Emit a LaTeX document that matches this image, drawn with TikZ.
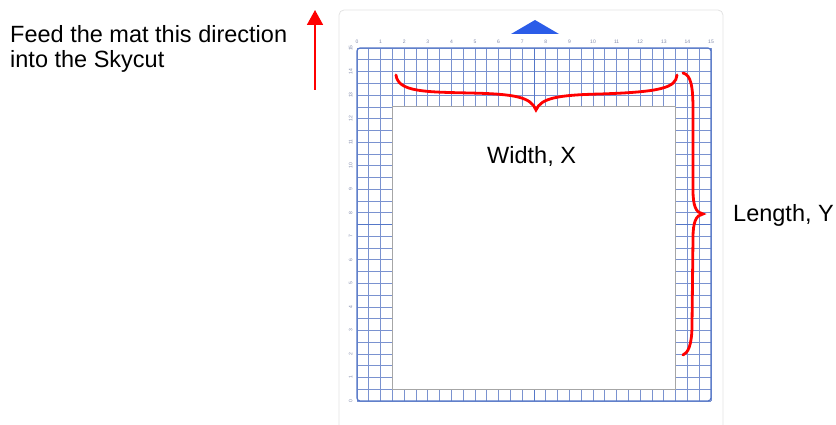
\documentclass[tikz,border=0pt]{standalone}
\usepackage{fontspec}
\setmainfont{Liberation Sans}
\usetikzlibrary{arrows.meta}
\definecolor{gridblue}{HTML}{7A92D0}
\definecolor{borderblue}{HTML}{5577C8}
\definecolor{tickgray}{HTML}{7F88A8}
\definecolor{triblue}{HTML}{2B5CE8}
\definecolor{panelgray}{HTML}{E2E2E2}
\tikzset{
  label text/.style={font=\fontsize{23.5}{25}\selectfont, inner sep=0pt, anchor=base west},
  redbrace/.style={draw=red, line width=2.8pt, line cap=round},
  ticklabel/.style={font=\fontsize{5}{6}\selectfont, text=tickgray, inner sep=0pt},
}
\begin{document}
\begin{tikzpicture}[x=1pt,y=-1pt]
\useasboundingbox (0,0) rectangle (836,425);
% panel
\draw[panelgray, line width=0.8pt, rounded corners=5pt] (339,10) rectangle (723,450);
% triangle
\fill[triblue] (511,34) -- (535,20) -- (559,34) -- cycle;
% mat grid
\begin{scope}[shift={(357,401)}, x=23.6pt, y=23.53pt]
  \draw[gridblue, line width=0.7pt] (0,0) grid[step=0.5] (15,15);
  \draw[borderblue, line width=1pt] (7.5,0) -- (7.5,15);
  \draw[borderblue, line width=1pt] (0,7.5) -- (15,7.5);
  \filldraw[fill=white, draw=gray!70, line width=0.9pt] (1.5,0.5) rectangle (13.5,12.5);
  \draw[borderblue, line width=1.3pt, rounded corners=3pt] (0,0) rectangle (15,15);
  \foreach \i in {0,...,15} {
    \node[ticklabel] (tx\i) at (\i,15.27) {\i};
    \node[ticklabel, rotate=90] (ty\i) at (-0.27,\i) {\i};
  }
\end{scope}
% text
\node[label text] (feed1) at (10,43) {Feed the mat this direction};
\node[label text] (feed2) at (10,68) {into the Skycut};
\node[label text] (width) at (487,164) {Width, X};
\node[label text] (length) at (733,222) {Length, Y};
% arrow
\coordinate (arrS) at (315,90);
\coordinate (arrE) at (315,10);
\draw[red, line width=1.8pt, -{Triangle[length=15pt,width=16pt]}] (arrS) -- (arrE);
% horizontal brace
\coordinate (hbL) at (396,75);
\coordinate (hbM) at (536,110);
\coordinate (hbR) at (677,75);
\draw[redbrace] (hbL) .. controls (398,92) and (425,92) .. (470,93)
  .. controls (515,94) and (531,97) .. (hbM)
  .. controls (541,98) and (558,95) .. (600,94)
  .. controls (660,92) and (676,88) .. (hbR);
% vertical brace
\coordinate (vbT) at (683,73);
\coordinate (vbM) at (703,214);
\coordinate (vbB) at (683,355);
\draw[redbrace] (vbT) .. controls (691,75) and (693,86) .. (693,110)
  -- (693,190) .. controls (693,206) and (696,213) .. (vbM)
  .. controls (696,215) and (693,222) .. (693,238)
  -- (692,325) .. controls (692,345) and (688,353) .. (vbB);
\end{tikzpicture}
\end{document}
